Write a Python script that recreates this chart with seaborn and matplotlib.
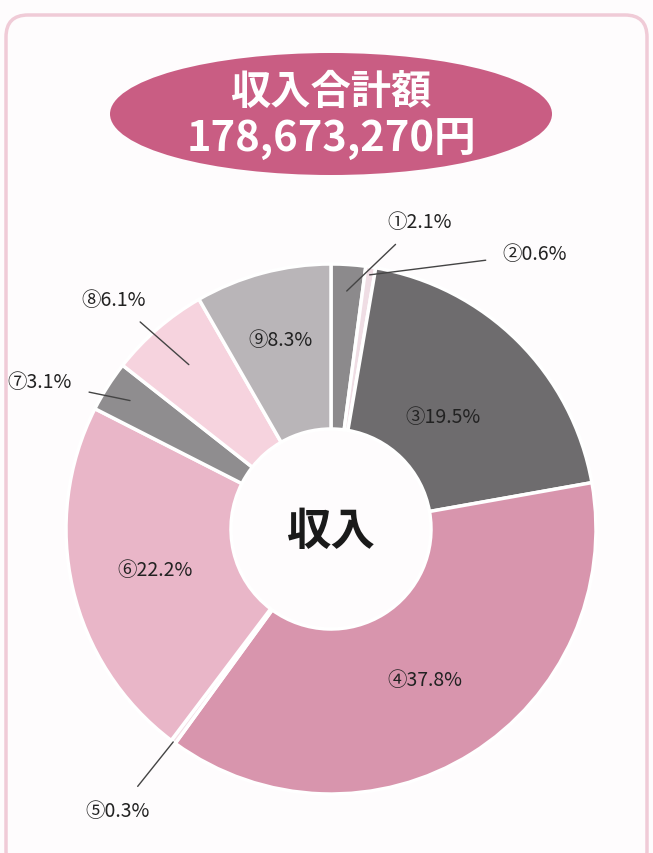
import numpy as np
import matplotlib
matplotlib.use("Agg")
import matplotlib.pyplot as plt
import seaborn as sns
from matplotlib.patches import Ellipse, FancyBboxPatch

sns.set_theme(style="white")
plt.rcParams['font.family'] = ['Noto Sans CJK JP', 'DejaVu Sans']

# data (clockwise from 12 o'clock)
labels = ["①", "②", "③", "④", "⑤", "⑥", "⑦", "⑧", "⑨"]
shares = [2.1, 0.6, 19.5, 37.8, 0.3, 22.2, 3.1, 6.1, 8.3]
colors = ["#8c8a8c", "#efdde4", "#6e6c6e", "#d895ad", "#f3dfe6",
          "#e9b6c8", "#8f8d8f", "#f6d3de", "#b9b5b8"]
title_lines = ["収入合計額", "178,673,270円"]
center_text = "収入"

# outside labels: text position (px from top-left) and where the leader line ends (fraction of radius)
outside = {0: ((420, 222), 0.9), 1: ((535, 255), 0.97), 7: ((114, 300), 0.82),
           6: ((40, 383), 0.9), 4: ((118, 812), 1.0)}
inside_r = {2: 0.6, 3: 0.67, 5: 0.68, 8: 0.74}

W, H = 653, 854
fig = plt.figure(figsize=(W / 100, H / 100), dpi=100)
fig.patch.set_facecolor("#fefcfd")
ax = fig.add_axes([0, 0, 1, 1])

cx, cy, R = 331, H - 530, 265
wedges, _ = ax.pie(shares, colors=colors, startangle=90, counterclock=False,
                   center=(cx, cy), radius=R, frame=True,
                   wedgeprops=dict(width=R - 100, edgecolor="white", linewidth=2.5))
ax.set_xlim(0, W)
ax.set_ylim(0, H)
ax.set_aspect("equal")
ax.axis("off")

# rounded frame
frame = FancyBboxPatch((6, -20), W - 12, H - 12 + 20 - 4, boxstyle="round,pad=0,rounding_size=22",
                       fc="none", ec="#f0cbd7", lw=2.5)
ax.add_patch(frame)

# labels
for i, w in enumerate(wedges):
    ang = np.deg2rad((w.theta1 + w.theta2) / 2)
    txt = f"{labels[i]}{shares[i]}%"
    if i in outside:
        (tx, ty), rf = outside[i]
        ax.annotate(txt, xy=(cx + R * rf * np.cos(ang), cy + R * rf * np.sin(ang)),
                    xytext=(tx, H - ty), ha="center", va="center", fontsize=14,
                    color="#222222",
                    arrowprops=dict(arrowstyle="-", color="#444444", lw=1,
                                    shrinkA=10, shrinkB=0))
    else:
        r_t = R * inside_r[i]
        ax.text(cx + r_t * np.cos(ang), cy + r_t * np.sin(ang), txt,
                ha="center", va="center", fontsize=14, color="#222222")

ax.text(cx, cy - 2, center_text, ha="center", va="center", fontsize=32,
        fontweight="bold", color="#1a1a1a")

# title oval
ax.add_patch(Ellipse((331, H - 115), 442, 122, fc="#c95d83", ec="none"))
ax.text(331, H - 92, title_lines[0], ha="center", va="center", fontsize=29,
        fontweight="bold", color="white")
ax.text(331, H - 140, title_lines[1], ha="center", va="center", fontsize=30,
        fontweight="bold", color="white")

fig.savefig("out.png", dpi=100, facecolor=fig.get_facecolor())
